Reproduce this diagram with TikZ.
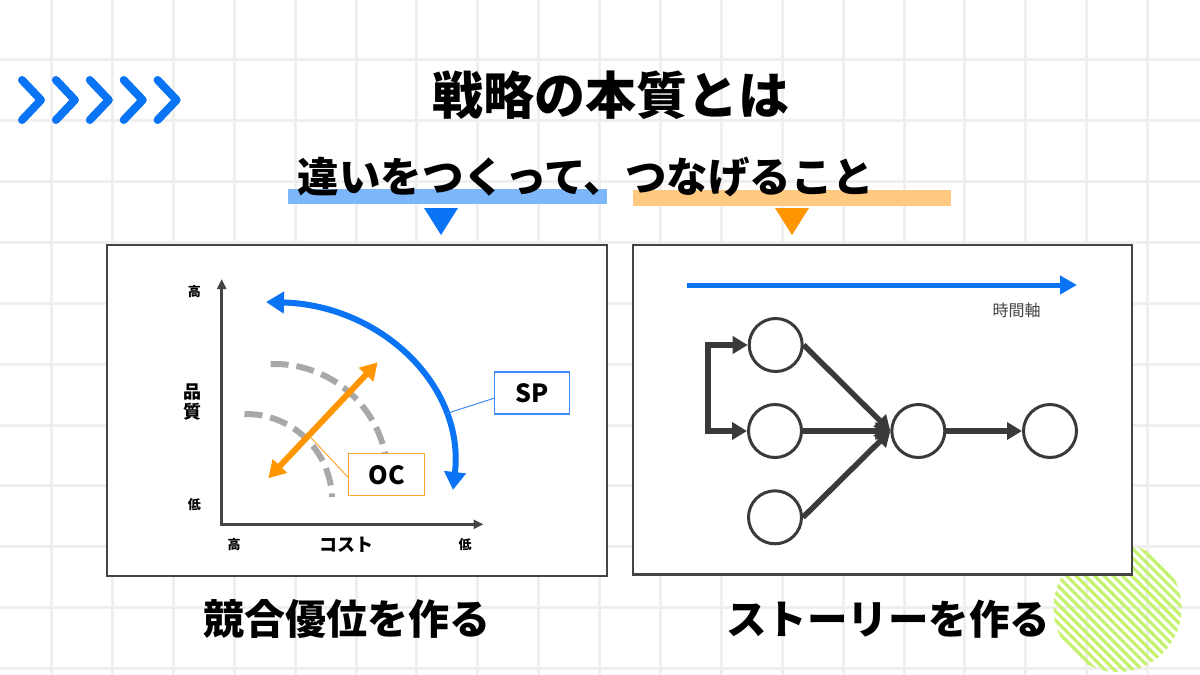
\documentclass[tikz,border=0pt]{standalone}
\usepackage{fontspec}
\newfontfamily\jp{Noto Sans CJK JP}
\usetikzlibrary{arrows.meta,calc}
\definecolor{gridc}{RGB}{239,239,239}
\definecolor{mblue}{RGB}{10,116,245}
\definecolor{lblue}{RGB}{125,183,250}
\definecolor{sbblue}{RGB}{60,140,250}
\definecolor{morange}{RGB}{255,149,0}
\definecolor{lorange}{RGB}{255,202,128}
\definecolor{oborder}{RGB}{255,165,50}
\definecolor{dgray}{RGB}{68,68,68}
\definecolor{cgray}{RGB}{58,58,58}
\definecolor{dashg}{RGB}{168,168,168}
\definecolor{lgreen}{RGB}{198,242,112}
\newcommand\fsz[1]{\fontsize{#1}{#1}\selectfont}
\tikzset{
  gridline/.style={draw=gridc, line width=3pt},
  panel/.style={draw=dgray, line width=2.2pt, fill=white, inner sep=0pt},
  chev/.style={draw=mblue, line width=8pt, line cap=round, line join=round},
  jpbold/.style={font=\jp\bfseries\fsz{#1}, inner sep=0pt, text=black},
  jpreg/.style={font=\jp\fsz{#1}, inner sep=0pt, text=dgray},
  axisline/.style={draw=dgray, line width=3pt, line join=miter,
     {Triangle[length=10pt,width=9pt]}-{Triangle[length=10pt,width=9pt]}},
  sparc/.style={draw=mblue, line width=6pt,
     {Triangle[length=18pt,width=21pt]}-{Triangle[length=18pt,width=21pt]}},
  ocarrow/.style={draw=morange, line width=6pt,
     {Triangle[length=17pt,width=19pt]}-{Triangle[length=17pt,width=19pt]}},
  dasharc/.style={draw=dashg, line width=6pt, dash pattern=on 18pt off 8pt},
  spbox/.style={draw=sbblue, line width=1.5pt, fill=white, inner sep=0pt,
     minimum width=75pt, minimum height=42pt, font=\jp\bfseries\fsz{25}},
  ocbox/.style={draw=oborder, line width=1.5pt, fill=white, inner sep=0pt,
     minimum width=76pt, minimum height=42pt, font=\jp\bfseries\fsz{25}},
  circ/.style={circle, draw=cgray, line width=3pt, fill=white, minimum size=53pt, inner sep=0pt},
  flow/.style={draw=cgray, line width=5.5pt, -{Triangle[length=15pt,width=17pt]}},
  flowb/.style={draw=cgray, line width=5.5pt, line join=miter,
     {Triangle[length=15pt,width=17pt]}-{Triangle[length=15pt,width=17pt]}},
  timearrow/.style={draw=mblue, line width=5pt, -{Triangle[length=17pt,width=18pt]}},
  stripe/.style={draw=lgreen, line width=3.3pt}
}
\begin{document}
\begin{tikzpicture}[x=1pt,y=-1pt]
\useasboundingbox (0,0) rectangle (1200,675);
\fill[white] (0,0) rectangle (1200,675);
% grid
\foreach \i in {0,...,18} \draw[gridline] ({51.7+60.88*\i},0) -- ({51.7+60.88*\i},675);
\foreach \j in {0,...,10} \draw[gridline] (0,{59.3+60.95*\j}) -- (1200,{59.3+60.95*\j});
% green hatched circle
\begin{scope}
  \clip (1117.5,608) circle[radius=64pt];
  \foreach \k in {-13,...,13} \draw[stripe] ({1117.5+9.3*\k-90},518) -- ++(180,180);
\end{scope}
% chevrons
\foreach \k in {0,...,4} \draw[chev] ({22+33.9*\k},80) -- ({41+33.9*\k},100) -- ({22+33.9*\k},120);
% title
\node[jpbold=51] (title) at (611,95) {戦略の本質とは};
% highlight bars and triangles
\fill[lblue] (288,188.5) rectangle (607,204);
\fill[lorange] (633,190) rectangle (951,206);
\node[jpbold=41.5] (sub) at (586,177) {違いをつくって、つなげること};
\fill[mblue] (424,208) -- (458,208) -- (441,235) -- cycle;
\fill[morange] (775,208) -- (809,208) -- (792,235) -- cycle;
% panels
\node[panel, minimum width=500pt, minimum height=331pt] (lp) at (357.3,410.5) {};
\node[panel, minimum width=499pt, minimum height=329.5pt] (rp) at (882.2,409.7) {};
% ---- left panel
\coordinate (o) at (221.7,524.3);
\coordinate (ytip) at (221.7,279);
\coordinate (xtip) at (483.5,524.3);
\draw[axisline] (ytip) -- (o) -- (xtip);
\node[jpbold=13] (yhi) at (194.3,291.7) {高};
\node[jpbold=18, align=center, font=\jp\bfseries\fontsize{18}{20}\selectfont] (ylab) at (192.7,401.7) {品\\質};
\node[jpbold=13] (ylo) at (194.3,505) {低};
\node[jpbold=13] (xhi) at (234,545) {高};
\node[jpbold=18] (xlab) at (346.7,545) {コスト};
\node[jpbold=13] (xlo) at (465,545) {低};
% dashed arcs
\draw[dasharc] ([shift={(92:113pt)}]274.5,477) arc[start angle=92, end angle=12, radius=113pt];
\draw[dasharc] ([shift={(91:86pt)}]246,500) arc[start angle=91, end angle=2, radius=86pt];
% SP arc
\coordinate (sptop) at (266,302);
\coordinate (spbot) at (453,490);
\coordinate (sppt) at (446.5,413.5);
\draw[sparc] (sptop) .. controls (380,305) and (465,385) .. (spbot);
% OC arrow
\coordinate (oca) at (268.3,478.3);
\coordinate (ocb) at (377.7,362.3);
\coordinate (ocpt) at ($(oca)!0.37!(ocb)$);
\draw[ocarrow] (oca) -- (ocb);
% label boxes
\node[spbox] (sp) at (532.2,392.8) {SP};
\draw[draw=sbblue, line width=1pt] ([yshift=-5.5pt]sp.west) -- (sppt);
\node[ocbox] (oc) at (386.7,474.7) {OC};
\draw[draw=oborder, line width=1pt] ([yshift=-2.5pt]oc.west) -- (ocpt);
% ---- right panel
\coordinate (tstart) at (686.7,285);
\coordinate (tend) at (1077,285);
\draw[timearrow] (tstart) -- (tend);
\node[jpreg=16] (tlab) at (1016.7,310) {時間軸};
\node[circ] (c1) at (775.7,345) {};
\node[circ] (c2) at (775,431) {};
\node[circ] (c3) at (775,517.3) {};
\node[circ] (c4) at (918.3,431) {};
\node[circ] (c5) at (1050,431) {};
\draw[flowb] (c1.west) -- ++(-39.5,0) |- (c2.west);
\draw[flow] (c1.east) -- (c4.west);
\draw[flow] (c2.east) -- (c4.west);
\draw[flow] (c3.east) -- (c4.west);
\draw[flow] (c4.east) -- (c5.west);
% bottom labels
\node[jpbold=41] (lcap) at (347,619) {競合優位を作る};
\node[jpbold=40.5] (rcap) at (888,619) {ストーリーを作る};
\end{tikzpicture}
\end{document}
